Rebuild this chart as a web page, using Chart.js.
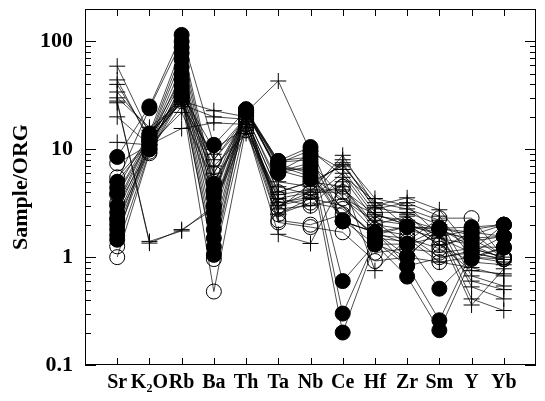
<!DOCTYPE html>
<html>
<head>
<meta charset="utf-8">
<script src="https://cdn.jsdelivr.net/npm/chart.js@4.4.0/dist/chart.umd.min.js"></script>
<style>
  html, body { margin: 0; padding: 0; background: #fff; }
  #wrap { width: 545px; height: 401px; }
</style>
</head>
<body>
<div id="wrap"><canvas id="spider" width="545" height="401"></canvas></div>
<script>
// elements along the x axis
var elements = ['Sr', 'K\u2082O', 'Rb', 'Ba', 'Th', 'Ta', 'Nb', 'Ce', 'Hf', 'Zr', 'Sm', 'Y', 'Yb'];
var yTicks = [0.1, 1, 10, 100];

// samples drawn with filled circles
var filledSamples = [
  [8.5, 25, 115, 11, 23, 7.8, 10.5, 2.15, 1.7, 1.92, 1.85, 1.9, 2.0],
  [5.0, 24, 100, 4.8, 23, 6.2, 9.0, 0.6, 1.32, 1.32, 0.51, 1.0, 1.23],
  [4.4, 14, 88, 4.2, 22.5, 7.6, 8.0, 0.3, 1.4, 0.83, 0.26, 1.1, 1.56],
  [3.9, 13, 78, 3.6, 23.5, 6.0, 7.0, 0.2, 1.32, 0.66, 0.21, 0.96, 1.23],
  [3.0, 12.5, 68, 3.0, 23, 7.2, 6.0, 2.15, 1.7, 1.02, 1.85, 1.6, 2.0],
  [2.6, 12, 58, 2.6, 22, 6.4, 5.3, null, 1.6, 1.92, 1.8, 1.4, 1.56],
  [2.3, 11.5, 50, 2.2, 23, 7.0, 5.6, null, null, 1.32, null, 1.8, 2.0],
  [2.0, 11, 44, 1.8, 22.5, 6.6, 6.5, 2.2, 1.32, 1.02, 1.85, 1.25, 1.23],
  [1.8, 10.5, 38, 1.5, 23, 7.4, 9.8, null, null, 1.92, null, 1.5, 1.56],
  [1.6, 10, 34, 1.25, 22, 6.2, 7.5, null, null, 0.83, null, 1.15, 2.0],
  [1.45, 13.5, 31, 1.05, 23.5, 7.8, 8.5, 2.15, 1.7, 1.32, 1.85, 1.7, 1.56]
];

// samples drawn with open circles
var openSamples = [
  [1.0, 9.2, 30, 0.48, 16, 2.1, 1.9, 1.7, 0.92, 1.0, 0.9, 1.0, 0.96],
  [1.26, 9.5, 32, 0.96, 18, 2.2, 2.0, 2.5, 1.1, 1.2, 1.1, 1.2, 1.0],
  [7.4, 11, 35, 8.0, 20, 3.0, 3.5, 3.0, 1.5, 1.4, 2.3, 2.3, 1.0],
  [3.8, 12, 28, 3.0, 15, 3.5, 4.0, 4.0, 2.0, 1.8, 1.5, 1.3, 0.96],
  [2.2, 10, 40, 5.0, 17, 2.8, 3.0, 3.5, 2.5, 2.0, 1.3, 1.5, 1.0],
  [3.2, 13, 45, 6.0, 19, 4.0, 5.0, 4.5, 1.8, 1.6, 1.0, 1.1, 0.96],
  [5.5, 12, 30, 4.0, 21, 2.5, 3.2, 2.8, 1.6, 1.5, 1.2, 1.7, 1.0]
];

// samples drawn with plus signs
var plusSamples = [
  [59, 14, 30, 8, 18, 3.0, 4.0, 8.8, 3.0, 3.55, 2.75, 1.2, 1.0],
  [44, 12, 28, 22.8, 20, 5.0, 4.5, 7.5, 2.8, 3.2, 2.4, 1.0, 0.9],
  [34, 15, 26, 20, 19, 4.0, 5.0, 7.0, 3.2, 2.8, 2.2, 0.67, 0.54],
  [28, 1.35, 1.8, 2.8, 22, 43, 9.5, 6.5, 2.6, 2.6, 2.0, 0.53, 0.41],
  [27, 1.4, 1.75, 3.0, 18, 2.5, 3.5, 6.0, 2.4, 2.2, 1.8, 0.41, 0.32],
  [11.6, 11, 15.6, 17.6, 17, 3.5, 3.0, 5.5, 2.2, 2.0, 1.6, 0.36, 0.78],
  [40, 13, 33, 10, 16, 1.63, 1.34, 5.0, 0.75, 1.5, 0.9, 0.8, 0.67],
  [30, 16, 27, 6, 21, 4.5, 3.8, 4.5, 2.0, 2.4, 1.5, 1.1, 0.95],
  [20, 11, 22, 5, 15, 3.8, 4.2, 4.2, 2.5, 2.0, 1.3, 0.9, 0.85],
  [5, 12, 28, 7, 14, 3.2, 3.6, 8.0, 3.5, 3.0, 1.6, 0.6, 0.5],
  [3, 10, 25, 9, 20, 2.8, 4.8, 7.2, 2.9, 2.5, 1.3, 0.75, 0.7]
];

var serif = "'Liberation Serif', 'Times New Roman', serif";

function toPoints(values) {
  return values.map(function (v, i) { return { x: i + 1, y: v }; });
}

function makeSet(values, style) {
  return {
    data: toPoints(values),
    borderColor: '#000',
    borderWidth: 0.7,
    fill: false,
    tension: 0,
    spanGaps: true,
    pointStyle: style.pointStyle,
    pointRadius: style.radius,
    pointBackgroundColor: style.fillColor,
    pointBorderColor: '#000',
    pointBorderWidth: 1
  };
}

var datasets = [];
plusSamples.forEach(function (s) {
  datasets.push(makeSet(s, { pointStyle: 'cross', radius: 8, fillColor: '#000' }));
});
openSamples.forEach(function (s) {
  datasets.push(makeSet(s, { pointStyle: 'circle', radius: 7.5, fillColor: 'rgba(0,0,0,0)' }));
});
filledSamples.forEach(function (s) {
  datasets.push(makeSet(s, { pointStyle: 'circle', radius: 7.5, fillColor: '#000' }));
});

/* box round the plot and inward tick marks on all four sides */
var frame = {
  id: 'frame',
  afterDraw: function (chart) {
    var ctx = chart.ctx,
        a = chart.chartArea,
        xs = chart.scales.x,
        ys = chart.scales.y;
    ctx.save();
    ctx.strokeStyle = '#000';
    ctx.lineWidth = 1;
    ctx.strokeRect(a.left + 0.5, a.top + 0.5, a.right - a.left - 1, a.bottom - a.top - 1);
    ctx.beginPath();
    elements.forEach(function (e, i) {
      var px = Math.round(xs.getPixelForValue(i + 1)) + 0.5;
      ctx.moveTo(px, a.bottom);
      ctx.lineTo(px, a.bottom - 7);
      ctx.moveTo(px, a.top);
      ctx.lineTo(px, a.top + 7);
    });
    yTicks.forEach(function (d) {
      for (var k = 1; k <= 9; k++) {
        var v = k * d;
        if (v >= 200) break;
        var len = k === 1 ? 11 : 6;
        var py = Math.round(ys.getPixelForValue(v)) + 0.5;
        ctx.moveTo(a.left, py);
        ctx.lineTo(a.left + len, py);
        ctx.moveTo(a.right, py);
        ctx.lineTo(a.right - len, py);
      }
    });
    ctx.stroke();
    ctx.restore();
  }
};

new Chart(document.getElementById('spider'), {
  type: 'line',
  data: { datasets: datasets },
  options: {
    responsive: false,
    animation: false,
    devicePixelRatio: 1,
    layout: { padding: { top: 7, right: 2, left: 0, bottom: 0 } },
    plugins: {
      legend: { display: false },
      tooltip: { enabled: false }
    },
    scales: {
      x: {
        type: 'linear',
        min: 0,
        max: 14,
        afterBuildTicks: function (axis) {
          axis.ticks = elements.map(function (e, i) { return { value: i + 1 }; });
        },
        afterFit: function (scale) {
          scale.height = 36;
          scale.paddingLeft = 0;
          scale.paddingRight = 0;
        },
        grid: { display: false, drawTicks: false },
        border: { display: false },
        ticks: {
          autoSkip: false,
          maxRotation: 0,
          padding: 6,
          color: '#000',
          font: { family: serif, size: 20, weight: 'bold' },
          callback: function (v) { return elements[v - 1] || ''; }
        }
      },
      y: {
        type: 'logarithmic',
        min: 0.1,
        max: 200,
        afterBuildTicks: function (axis) {
          axis.ticks = yTicks.map(function (v) { return { value: v }; });
        },
        afterFit: function (scale) {
          scale.width = 85;
          scale.paddingTop = 0;
          scale.paddingBottom = 0;
        },
        grid: { display: false, drawTicks: false },
        border: { display: false },
        title: {
          display: true,
          text: 'Sample/ORG',
          color: '#000',
          padding: { top: 8, bottom: 4 },
          font: { family: serif, size: 22, weight: 'bold' }
        },
        ticks: {
          padding: 12,
          color: '#000',
          font: { family: serif, size: 22, weight: 'bold' },
          callback: function (v) { return String(v); }
        }
      }
    }
  },
  plugins: [frame]
});
</script>
</body>
</html>
